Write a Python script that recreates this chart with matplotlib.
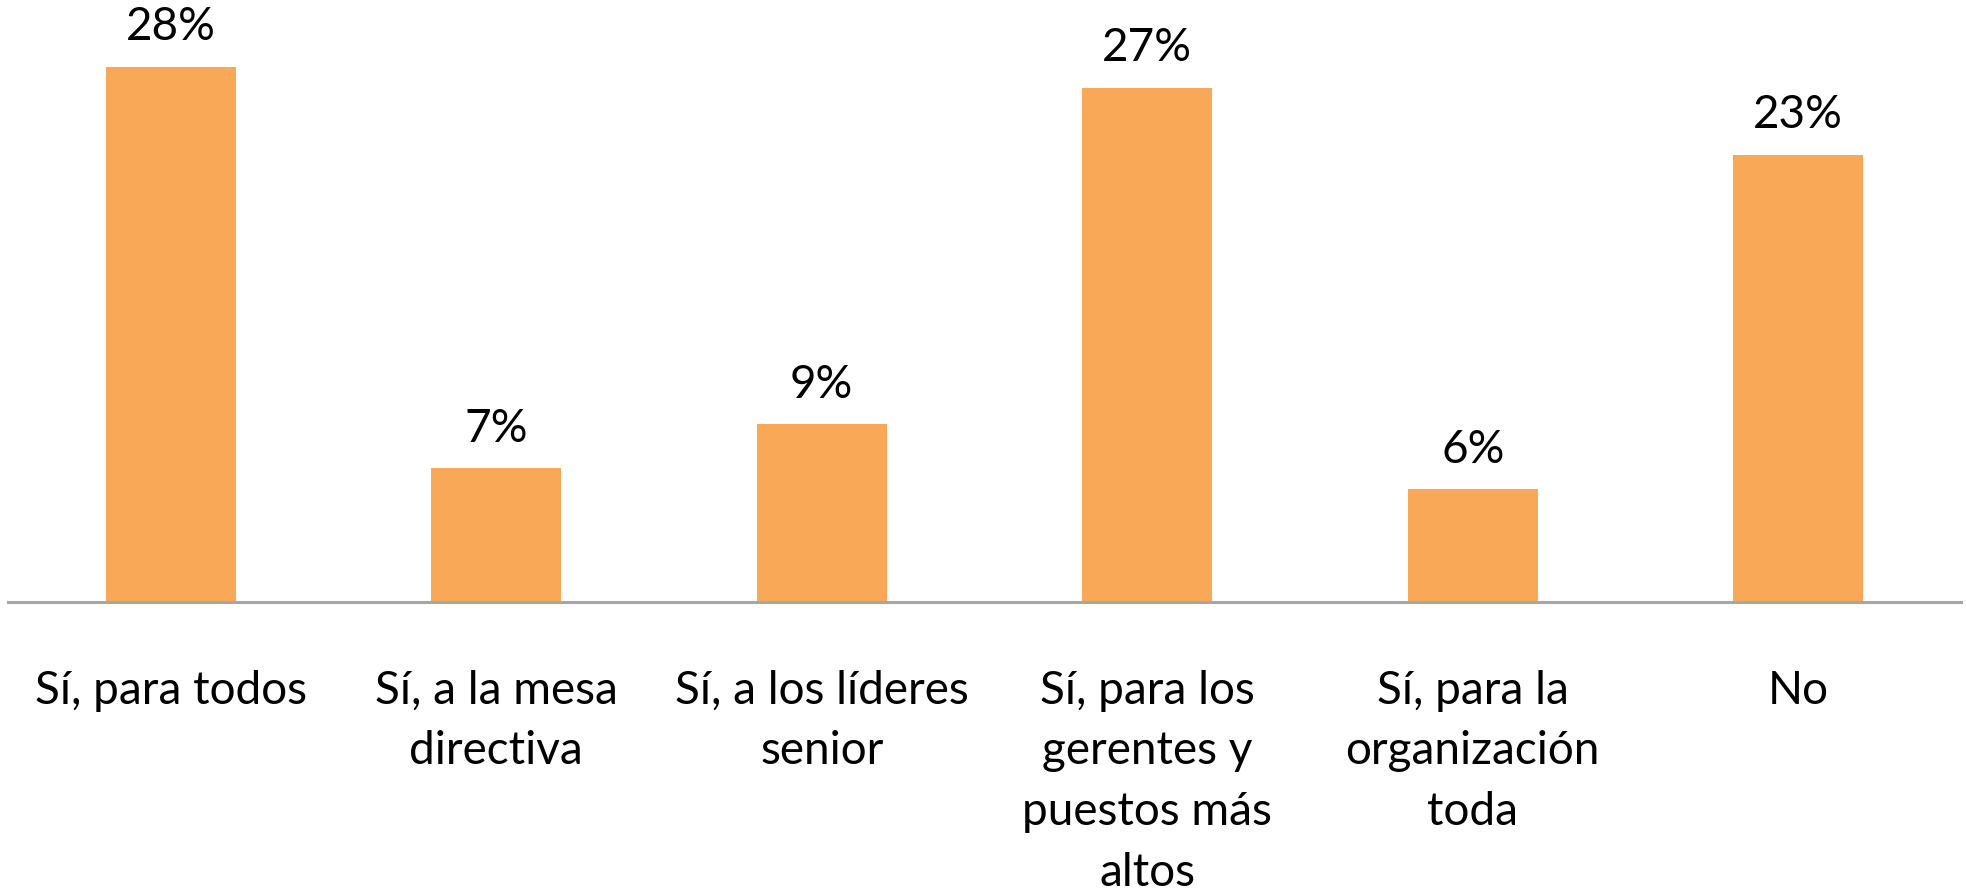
import matplotlib.pyplot as plt
import numpy as np

# ============================================================================
# DATOS
# ============================================================================
categorias = [
    'Sí, para todos',
    'Sí, a la mesa\ndirectiva',
    'Sí, a los líderes\nsenior',
    'Sí, para los\ngerentes y\npuestos más\naltos',
    'Sí, para la\norganización\ntoda',
    'No',
]
valores = [28.0, 7.0, 9.3, 26.9, 5.9, 23.4]
etiquetas = ['28%', '7%', '9%', '27%', '6%', '23%']

COLOR_BARRA = '#F9A858'
COLOR_EJE = '#A6A6A6'
FUENTE = 'Lato'

plt.rcParams['font.family'] = [FUENTE, 'DejaVu Sans']

fig = plt.figure(figsize=(19.66, 8.95), dpi=100)
ax = fig.add_axes([8 / 1966, 1 - 603 / 895, 1953 / 1966, 603 / 895])

x = np.arange(len(categorias))
ax.bar(x, valores, width=0.4, color=COLOR_BARRA, zorder=2)

# Etiquetas de valor encima de cada barra
for xi, val, txt in zip(x, valores, etiquetas):
    ax.annotate(txt, xy=(xi, val), xytext=(0, 14),
                textcoords='offset points', ha='center', va='bottom',
                fontsize=33, color='black')

ax.set_xlim(-0.5, len(categorias) - 0.5)
ax.set_ylim(0, 31.55)
ax.set_xticks(x)
ax.set_xticklabels(categorias, fontsize=33, linespacing=1.55,
                   multialignment='center')
ax.tick_params(axis='x', length=0, pad=48)
ax.set_yticks([])

for lado in ['top', 'right', 'left']:
    ax.spines[lado].set_visible(False)
ax.spines['bottom'].set_color(COLOR_EJE)
ax.spines['bottom'].set_linewidth(2.2)
ax.patch.set_alpha(0)

fig.savefig('out.png', dpi=100, facecolor='white')
